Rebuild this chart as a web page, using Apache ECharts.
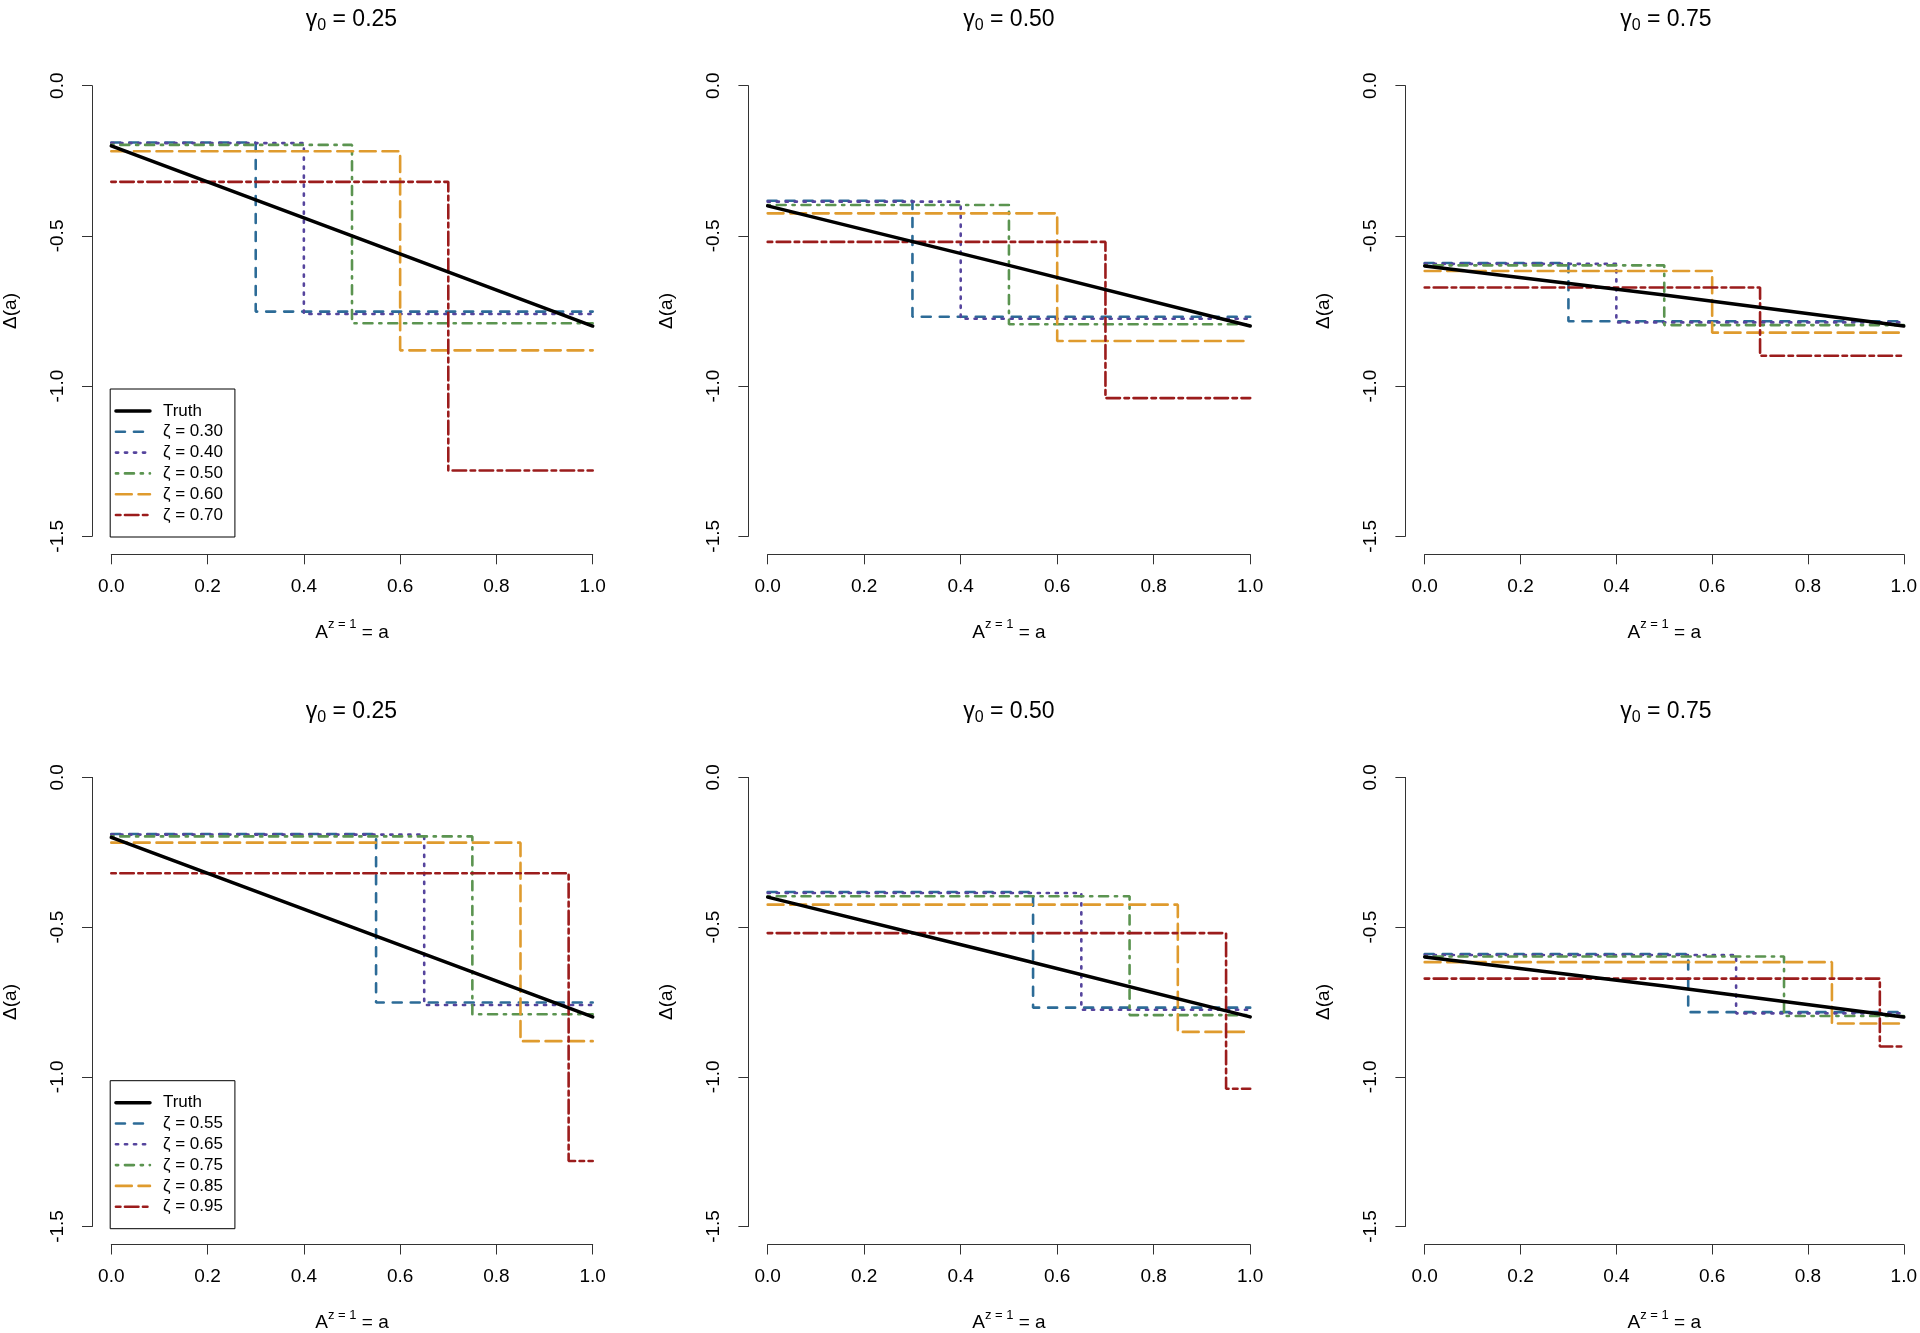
<!DOCTYPE html>
<html>
<head>
<meta charset="utf-8">
<script src="https://cdn.jsdelivr.net/npm/echarts@6/dist/echarts.min.js"></script>
<style>
html,body{margin:0;padding:0;background:#ffffff;}
#chart{width:1920px;height:1333px;}
</style>
</head>
<body>
<div id="chart"></div>
<script>
// ---------------- data ----------------
const gammaLabels = ['0.25', '0.50', '0.75'];
const zetaTop = [0.30, 0.40, 0.50, 0.60, 0.70];
const zetaBottom = [0.55, 0.65, 0.75, 0.85, 0.95];

// Truth curve, a = 0, 0.5, 1
const truthA = [0, 0.5, 1];
const truthG025 = [-0.200, -0.500, -0.800];
const truthG050 = [-0.400, -0.598, -0.800];
const truthG075 = [-0.600, -0.697, -0.800];

// step estimates: value before the cut (upper) and after it (lower), per zeta index
const upperG025 = [-0.189, -0.191, -0.197, -0.218, -0.320];
const lowerG025 = [-0.752, -0.760, -0.791, -0.881, -1.281];
const upperG050 = [-0.383, -0.386, -0.397, -0.425, -0.520];
const lowerG050 = [-0.769, -0.776, -0.794, -0.850, -1.040];
const upperG075 = [-0.590, -0.593, -0.598, -0.617, -0.672];
const lowerG075 = [-0.784, -0.788, -0.797, -0.822, -0.899];

const xTickLabels = ['0.0', '0.2', '0.4', '0.6', '0.8', '1.0'];
const yTickLabels = ['-1.5', '-1.0', '-0.5', '0.0'];

// ---------------- styling ----------------
const FONT = '"Liberation Sans", Arial, Helvetica, sans-serif';
const stepColors = ['#2c6b97', '#55449d', '#5b9450', '#df9b2e', '#9b1c1c'];
const stepDash = [[9, 9], [2.2, 6.8], [2.2, 6.8, 9, 6.8], [15.8, 6.8], [4.5, 4.5, 13.5, 4.5]];
const colLeft = [110.2, 767.7, 1424.7];
const rowTop = [85.7, 777.4];
const plotW = 482.5;
const plotH = 450.6;
const stepWidth = 2.6;
const truthWidth = 3.5;

const truthVals = [truthG025, truthG050, truthG075];
const upperVals = [upperG025, upperG050, upperG075];
const lowerVals = [lowerG025, lowerG050, lowerG075];
const zetaRows = [zetaTop, zetaBottom];

const grids = [], xAxes = [], yAxes = [], series = [], titles = [], legends = [];

for (let r = 0; r < 2; r++) {
  for (let c = 0; c < 3; c++) {
    const i = r * 3 + c;
    grids.push({left: colLeft[c], top: rowTop[r], width: plotW, height: plotH, containLabel: false});
    xAxes.push({
      type: 'value', gridIndex: i, min: 0, max: 1, interval: 0.2, offset: 18,
      axisLine: {show: true, onZero: false, lineStyle: {color: '#333', width: 1}},
      axisTick: {show: true, length: 10, lineStyle: {color: '#333', width: 1}},
      axisLabel: {fontSize: 19, color: '#000', fontFamily: FONT, margin: 23,
        showMinLabel: true, showMaxLabel: true, hideOverlap: false,
        formatter: v => xTickLabels[Math.round(v * 5)]},
      splitLine: {show: false},
      name: '{b|A}{s|z = 1}{b| = a}', nameLocation: 'middle', nameGap: 64,
      nameTextStyle: {rich: {
        b: {fontSize: 19, fontFamily: FONT, color: '#000', lineHeight: 28},
        s: {fontSize: 13, fontFamily: FONT, color: '#000', lineHeight: 11, verticalAlign: 'top'}
      }}
    });
    yAxes.push({
      type: 'value', gridIndex: i, min: -1.5, max: 0, interval: 0.5, offset: 19.3,
      axisLine: {show: true, onZero: false, lineStyle: {color: '#333', width: 1}},
      axisTick: {show: true, length: 10, lineStyle: {color: '#333', width: 1}},
      axisLabel: {fontSize: 19, color: '#000', fontFamily: FONT, margin: 25, rotate: 90,
        showMinLabel: true, showMaxLabel: true, hideOverlap: false,
        formatter: v => yTickLabels[Math.round((v + 1.5) * 2)]},
      splitLine: {show: false},
      name: 'Δ(a)', nameLocation: 'middle', nameRotate: 90, nameGap: 72,
      nameTextStyle: {fontSize: 19, fontFamily: FONT, color: '#000'}
    });
    titles.push({
      text: '{g|γ}{s|0}{g| = ' + gammaLabels[c] + '}',
      left: colLeft[c] + plotW / 2, top: rowTop[r] - 66.1,
      textAlign: 'center', textVerticalAlign: 'middle', padding: 0,
      textStyle: {fontWeight: 'normal', rich: {
        g: {fontSize: 23, fontWeight: 'normal', fontFamily: FONT, color: '#000', lineHeight: 28},
        s: {fontSize: 16, fontWeight: 'normal', fontFamily: FONT, color: '#000', lineHeight: 14, verticalAlign: 'bottom'}
      }}
    });
    const zetas = zetaRows[r];
    for (let k = 0; k < zetas.length; k++) {
      series.push({
        type: 'line', name: 'ζ = ' + zetas[k].toFixed(2), xAxisIndex: i, yAxisIndex: i,
        step: 'end', symbol: 'none', clip: false, z: 2,
        lineStyle: {color: stepColors[k], width: stepWidth, type: stepDash[k], cap: 'round'},
        itemStyle: {color: stepColors[k]},
        data: [[0, upperVals[c][k]], [zetas[k], lowerVals[c][k]], [1, lowerVals[c][k]]]
      });
    }
    series.push({
      type: 'line', name: 'Truth', xAxisIndex: i, yAxisIndex: i,
      symbol: 'none', clip: false, z: 3,
      lineStyle: {color: '#000', width: truthWidth, cap: 'round'},
      itemStyle: {color: '#000'},
      data: truthA.map((a, j) => [a, truthVals[c][j]])
    });
    if (c === 0) {
      legends.push({
        left: colLeft[c], top: rowTop[r] + 303.3, orient: 'vertical',
        itemWidth: 34, itemHeight: 20.8, itemGap: 0,
        padding: [11.6, 12, 11.6, 4],
        borderColor: '#000', borderWidth: 1, backgroundColor: '#fff',
        selectedMode: false,
        itemStyle: {opacity: 0, color: 'rgba(0,0,0,0)', borderColor: 'rgba(0,0,0,0)', borderWidth: 0},
        textStyle: {fontSize: 17, lineHeight: 20.8, fontFamily: FONT, color: '#000', padding: [0, 0, 0, 8]},
        lineStyle: {width: stepWidth},
        data: [{name: 'Truth', lineStyle: {width: truthWidth, color: '#000'}}].concat(zetas.map((z, k) => ({
          name: 'ζ = ' + z.toFixed(2),
          lineStyle: {width: stepWidth, color: stepColors[k], type: stepDash[k], cap: 'round'}
        })))
      });
    }
  }
}

const chart = echarts.init(document.getElementById('chart'), null, {renderer: 'canvas'});
chart.setOption({
  backgroundColor: '#ffffff',
  animation: false,
  title: titles,
  legend: legends,
  grid: grids,
  xAxis: xAxes,
  yAxis: yAxes,
  series: series
});
</script>
</body>
</html>
